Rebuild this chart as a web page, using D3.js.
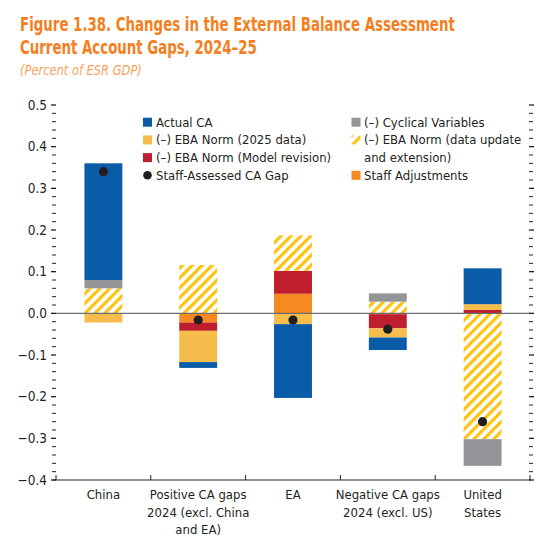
<html>
<head>
<meta charset="utf-8">
<script src="https://d3js.org/d3.v7.min.js"></script>
<style>
  body { margin: 0; background: #fff; }
  text { font-family: "Liberation Sans Narrow", "DejaVu Sans Condensed", "Roboto", sans-serif; fill: #231f20; }
  .title { font-weight: bold; fill: #f47f20; font-size: 20px; }
  .subtitle { font-style: italic; fill: #f7a35c; font-size: 14px; }
  .tick-label { font-size: 13.5px; }
  .legend text { font-size: 13px; }
  .cat-label { font-size: 13px; }
</style>
</head>
<body>
<svg width="555" height="548"></svg>
<script>
// categories (one entry per bar, lines of the label)
var categories = ["China", "Positive CA gaps", "EA", "Negative CA gaps", "United States"];
var catLines = [["China"], ["Positive CA gaps", "2024 (excl. China", "and EA)"], ["EA"],
  ["Negative CA gaps", "2024 (excl. US)"], ["United", "States"]];

// series values, percent of ESR GDP
var actualCA   = [0.280, -0.014, -0.177, -0.030, 0.086];
var ebaNorm25  = [-0.022, -0.075, -0.026, -0.022, 0.014];
var ebaModel   = [0.000, -0.020, 0.055, -0.034, 0.008];
var cyclical   = [0.020, 0.000, 0.000, 0.020, -0.064];
var ebaUpdate  = [0.060, 0.116, 0.085, 0.028, -0.302];
var staffAdj   = [0.000, -0.022, 0.047, -0.002, 0.000];
var staffGap   = [0.340, -0.016, -0.016, -0.038, -0.260];

var yTicks = [-0.4, -0.3, -0.2, -0.1, 0.0, 0.1, 0.2, 0.3, 0.4, 0.5];

var svg = d3.select("svg");

// hatch pattern
var defs = svg.append("defs");
var pat = defs.append("pattern")
  .attr("id", "hatch")
  .attr("patternUnits", "userSpaceOnUse")
  .attr("width", 7).attr("height", 7)
  .attr("patternTransform", "rotate(45)");
pat.append("rect").attr("width", 7).attr("height", 7).attr("fill", "#fff");
pat.append("rect").attr("width", 3.2).attr("height", 7).attr("fill", "#ffc20e");

var keys = ["staff", "model", "update", "cyclical", "norm25", "actual"];
var colors = {
  actual: "#0a5ca8", norm25: "#f6bd4d", model: "#be1e2d",
  cyclical: "#939598", update: "url(#hatch)", staff: "#f6891f"
};

var rows = categories.map(function(c, i) {
  return { cat: c, actual: actualCA[i], norm25: ebaNorm25[i], model: ebaModel[i],
    cyclical: cyclical[i], update: ebaUpdate[i], staff: staffAdj[i], gap: staffGap[i] };
});

var x = d3.scaleBand().domain(categories).range([56, 530]).paddingInner(0.6).paddingOuter(0.3);
var y = d3.scaleLinear().domain([-0.4, 0.5]).range([480, 105]);

// titles, squeezed horizontally to the width they have in the figure
function fitText(cls, str, tx, ty, w) {
  var g = svg.append("g");
  var t = g.append("text").attr("class", cls).attr("x", 0).attr("y", 0).text(str);
  var len = t.node().getComputedTextLength();
  g.attr("transform", "translate(" + tx + "," + ty + ") scale(" + (w / len) + ",1)");
}
fitText("title", "Figure 1.38. Changes in the External Balance Assessment", 20, 31, 435);
fitText("title", "Current Account Gaps, 2024–25", 20, 54, 237);
fitText("subtitle", "(Percent of  ESR GDP)", 20, 75, 122);

// stacked bars
var stacked = d3.stack().keys(keys).offset(d3.stackOffsetDiverging)(rows);
svg.append("g").selectAll("g")
  .data(stacked)
  .enter().append("g")
    .attr("fill", function(s) { return colors[s.key]; })
  .selectAll("rect")
  .data(function(s) { return s; })
  .enter().append("rect")
    .attr("x", function(d) { return x(d.data.cat); })
    .attr("width", x.bandwidth())
    .attr("y", function(d) { return y(Math.max(d[0], d[1])); })
    .attr("height", function(d) { return Math.abs(y(d[0]) - y(d[1])); });

// zero line
svg.append("line").attr("x1", 56).attr("x2", 530).attr("y1", y(0)).attr("y2", y(0))
  .attr("stroke", "#6d6e71").attr("stroke-width", 1.3);

// staff-assessed gap dots
svg.append("g").selectAll("circle")
  .data(rows)
  .enter().append("circle")
    .attr("cx", function(d) { return x(d.cat) + x.bandwidth() / 2; })
    .attr("cy", function(d) { return y(d.gap); })
    .attr("r", 4.6)
    .attr("fill", "#231f20");

// y ticks, left and right
var minor = d3.range(-40, 51, 2).map(function(v) { return v / 100; });
var tickG = svg.append("g").attr("stroke", "#231f20");
minor.forEach(function(v) {
  var major = Math.abs(Math.round(v * 100) % 10) === 0;
  tickG.append("line").attr("x1", major ? 51 : 52).attr("x2", 56)
    .attr("y1", y(v)).attr("y2", y(v)).attr("stroke-width", major ? 1.3 : 1);
  tickG.append("line").attr("x1", 529).attr("x2", major ? 534 : 533)
    .attr("y1", y(v)).attr("y2", y(v)).attr("stroke-width", major ? 1.3 : 1);
});

svg.append("g").selectAll("text")
  .data(yTicks)
  .enter().append("text")
    .attr("class", "tick-label")
    .attr("x", 47)
    .attr("y", function(d) { return y(d); })
    .attr("dy", "0.35em")
    .attr("text-anchor", "end")
    .text(d3.format(".1f"));

// bottom axis
svg.append("line").attr("x1", 53).attr("x2", 531).attr("y1", 480).attr("y2", 480)
  .attr("stroke", "#231f20").attr("stroke-width", 1.2);
var step = x.step();
d3.range(0, categories.length + 1).forEach(function(i) {
  var xx = 56 + i * step;
  svg.append("line").attr("x1", xx).attr("x2", xx).attr("y1", 480).attr("y2", 475)
    .attr("stroke", "#231f20");
});

// category labels
rows.forEach(function(d, i) {
  var t = svg.append("text").attr("class", "cat-label")
    .attr("text-anchor", "middle")
    .attr("x", x(d.cat) + x.bandwidth() / 2)
    .attr("y", 499);
  catLines[i].forEach(function(line, j) {
    t.append("tspan").attr("x", x(d.cat) + x.bandwidth() / 2).attr("dy", j ? 17.5 : 0).text(line);
  });
});

// legend
var legend = svg.append("g").attr("class", "legend");
var leftItems = [
  { label: "Actual CA", key: "actual" },
  { label: "(–) EBA Norm (2025 data)", key: "norm25" },
  { label: "(–) EBA Norm (Model revision)", key: "model" },
  { label: "Staff-Assessed CA Gap", key: "dot" }
];
var rightItems = [
  { label: ["(–) Cyclical Variables"], key: "cyclical", row: 0 },
  { label: ["(–) EBA Norm (data update", "and extension)"], key: "update", row: 1 },
  { label: ["Staff Adjustments"], key: "staff", row: 3 }
];
var rowY = [126.7, 144.4, 162.1, 179.8];

leftItems.forEach(function(it, i) {
  if (it.key === "dot") {
    legend.append("circle").attr("cx", 147.5).attr("cy", rowY[i] - 4.5).attr("r", 4.3).attr("fill", "#231f20");
  } else {
    legend.append("rect").attr("x", 143).attr("y", rowY[i] - 9).attr("width", 9).attr("height", 9)
      .attr("fill", colors[it.key]);
  }
  legend.append("text").attr("x", 156).attr("y", rowY[i]).text(it.label);
});

rightItems.forEach(function(it) {
  legend.append("rect").attr("x", 351.5).attr("y", rowY[it.row] - 9).attr("width", 9).attr("height", 9)
    .attr("fill", colors[it.key]);
  it.label.forEach(function(line, j) {
    legend.append("text").attr("x", 364).attr("y", rowY[it.row + j]).text(line);
  });
});
</script>
</body>
</html>
